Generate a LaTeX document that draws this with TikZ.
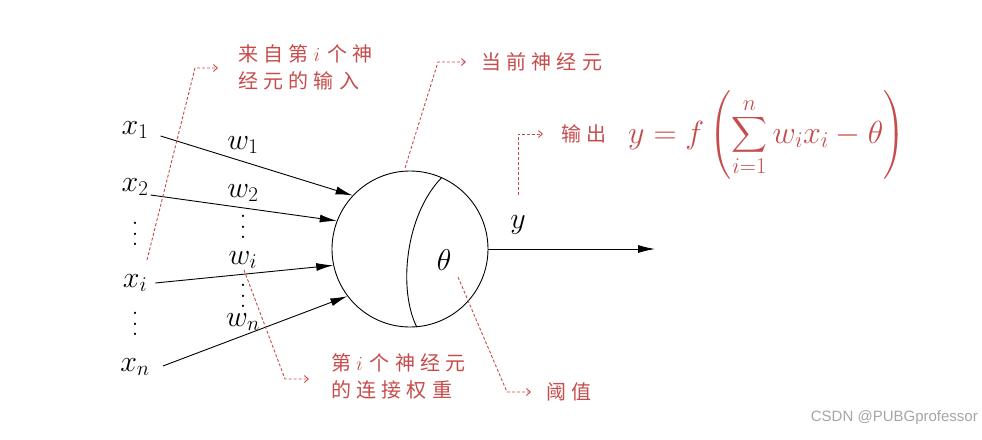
\RequirePackage{fix-cm}
\documentclass[tikz,border=0pt]{standalone}
\usepackage{fontspec}
\usepackage{amsmath}
\usepackage{exscale}
\newfontfamily\cjk[LetterSpace=26]{Noto Sans CJK SC}
\newfontfamily\wmfont{Liberation Sans}
\usetikzlibrary{arrows.meta}
\definecolor{lead}{RGB}{198,76,76}
\definecolor{wm}{RGB}{165,165,165}
\newcommand\myvdots{\vbox{\baselineskip=10.5pt\lineskiplimit=-20pt\hbox{.}\hbox{.}\hbox{.}}}
\tikzset{
 mlab/.style={font=\fontsize{30}{34}\selectfont, inner sep=0pt},
 dlab/.style={font=\fontsize{28}{34}\selectfont, inner sep=0pt},
 clab/.style={font=\fontsize{20}{27}\selectfont\cjk, text=lead, inner sep=0pt, align=left},
 inarrow/.style={line width=0.9pt, -{Latex[length=17pt,width=8pt]}},
 leader/.style={draw=lead, line width=0.9pt, dash pattern=on 3pt off 2pt, -{Straight Barb[length=4pt,width=7pt]}},
}
\begin{document}
\begin{tikzpicture}[x=1pt,y=-1pt]
\useasboundingbox (0,0) rectangle (982,439);
% neuron
\node[draw, circle, line width=0.9pt, minimum size=156pt, inner sep=0pt] (neuron) at (410,249) {};
\draw[line width=0.9pt] (neuron.66) .. controls (405,215) and (398,290) .. (neuron.-85);
\node[mlab] (theta) at (444,260) {$\theta$};
% inputs
\node[mlab] (x1) at (135,130) {$x_1$};
\node[mlab] (x2) at (135,187) {$x_2$};
\node[dlab] (xd1) at (135,234) {\myvdots};
\node[mlab] (xi) at (135,283) {$x_i$};
\node[dlab] (xd2) at (135,324) {\myvdots};
\node[mlab] (xn) at (135,367) {$x_n$};
% weights
\node[mlab] (w1) at (243,145) {$w_1$};
\node[mlab] (w2) at (243,193) {$w_2$};
\node[dlab] (wd1) at (243,227) {\myvdots};
\node[mlab] (wi) at (243,260) {$w_i$};
\node[dlab] (wd2) at (243,296) {\myvdots};
\node[mlab] (wn) at (243,322) {$w_n$};
% input arrows
\draw[inarrow] ([shift={(12,6)}]x1.east) -- (neuron.137);
\draw[inarrow] ([shift={(2,8)}]x2.east) -- (neuron.159);
\draw[inarrow] ([shift={(8,0)}]xi.east) -- (neuron.192);
\draw[inarrow] ([shift={(13,-1)}]xn.east) -- (neuron.217);
% output
\coordinate (yend) at (655,249);
\draw[inarrow] (neuron.east) -- (yend);
\node[mlab] (ylab) at (518,225) {$y$};
% annotations
\node[clab, anchor=north west] (l1) at (238,44) {来自第\hspace{5pt}$i$\hspace{7pt}个神\\经元的输入};
\coordinate (p1a) at (147,260);
\coordinate (p1b) at (195,68);
\coordinate (p1c) at (218,68);
\draw[leader] (p1a) -- (p1b) -- (p1c);

\node[clab, anchor=west] (l2) at (481,62) {当前神经元};
\coordinate (p2a) at (405,168);
\coordinate (p2b) at (438,62);
\coordinate (p2c) at (466,62);
\draw[leader] (p2a) -- (p2b) -- (p2c);

\node[clab, anchor=west] (l3) at (561,134) {输出};
\node[font=\fontsize{32}{38}\selectfont, text=lead, inner sep=0pt, anchor=west] (formula) at (628,135)
 {$\displaystyle y=f\left(\sum_{i=1}^{n} w_i x_i-\theta\right)$};
\coordinate (p3a) at (518,195);
\coordinate (p3b) at (518,134);
\coordinate (p3c) at (543,134);
\draw[leader] (p3a) -- (p3b) -- (p3c);

\node[clab, anchor=north west] (l4) at (331,353) {第\hspace{5pt}$i$\hspace{7pt}个神经元\\的连接权重};
\coordinate (p4a) at (244,270);
\coordinate (p4b) at (285,379);
\coordinate (p4c) at (309,379);
\draw[leader] (p4a) -- (p4b) -- (p4c);

\node[clab, anchor=west] (l5) at (546,392) {阈值};
\coordinate (p5a) at (458,277);
\coordinate (p5b) at (507,392);
\coordinate (p5c) at (531,392);
\draw[leader] (p5a) -- (p5b) -- (p5c);

\node[font=\fontsize{15}{18}\selectfont\wmfont, text=wm, inner sep=0pt, anchor=east] (wm) at (978,418) {CSDN @PUBGprofessor};
\end{tikzpicture}
\end{document}
